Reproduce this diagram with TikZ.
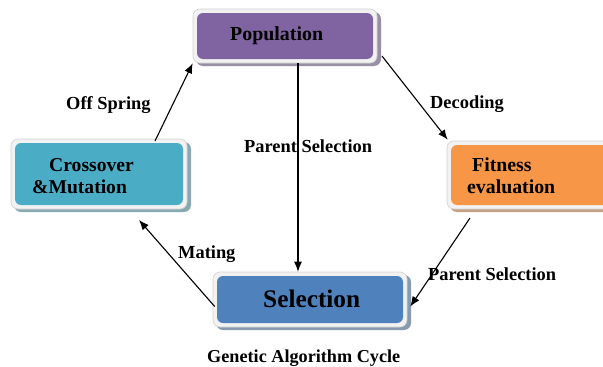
\documentclass[tikz,border=0pt]{standalone}
\usepackage{fontspec}
\setmainfont{Liberation Serif}
\usetikzlibrary{arrows.meta,calc}
\definecolor{cpop}{HTML}{8064A2}
\definecolor{ccro}{HTML}{4BACC6}
\definecolor{cfit}{HTML}{F79646}
\definecolor{csel}{HTML}{4F81BD}
\definecolor{frame}{HTML}{F2F2F2}
\tikzset{
  box/.style={draw=gray!35, line width=0.6pt, fill=frame, rounded corners=7pt,
    inner sep=0pt, minimum width=#1},
  boxfill/.style={fill=#1, rounded corners=6pt},
  shadow/.style={fill=#1!45!gray!80, rounded corners=7pt},
  txt/.style={inner sep=0pt, anchor=base west, font=\bfseries\fontsize{#1}{#1}\selectfont},
  arr/.style={-{Latex[length=10pt,width=8pt]}, line width=1.1pt, black},
}
\begin{document}
\begin{tikzpicture}[x=1pt,y=-1pt]
\useasboundingbox (0,0) rectangle (603,367);
\clip (0,0) rectangle (603,367);
\fill[white] (0,0) rectangle (603,367);
% Population
\fill[shadow=cpop] (196,12) rectangle (381,66);
\node[box, minimum width=184pt, minimum height=54pt] (pop) at (285,36) {};
\fill[boxfill=cpop] (197,13) rectangle (373,59);
% Crossover
\fill[shadow=ccro] (14,142) rectangle (191,212);
\node[box, minimum width=176pt, minimum height=70pt] (cro) at (99,174) {};
\fill[boxfill=ccro] (15,143) rectangle (183,205);
% Fitness
\fill[shadow=cfit] (450,144) rectangle (640,212);
\node[box, minimum width=190pt, minimum height=68pt] (fit) at (542,175) {};
\fill[boxfill=cfit] (451,145) rectangle (640,205);
% Selection
\fill[shadow=csel] (216,275) rectangle (411,330);
\node[box, minimum width=194pt, minimum height=55pt] (sel) at (310,299.5) {};
\fill[boxfill=csel] (217,276) rectangle (403,323);
% texts
\node[txt=19.9] (tpop) at (230,40) {Population};
\node[txt=19.6] (tcro1) at (49,171) {Crossover};
\node[txt=19.6] (tcro2) at (32,193) {\&Mutation};
\node[txt=19.8] (tfit1) at (472,171) {Fitness};
\node[txt=19.8] (tfit2) at (467,193) {evaluation};
\node[txt=25.3] (tsel) at (263,307) {Selection};
\node[txt=18.2] (cap) at (207,362) {Genetic Algorithm Cycle};
% arrows
\coordinate (a1s) at (155,141);
\coordinate (a2s) at (382,56);
\coordinate (a4s) at (470,218);
\coordinate (a5e) at (139,220);
\draw[arr] (a1s) -- (pop.south west);
\draw[arr] (a2s) -- ($(fit.north west)+(1pt,1pt)$);
\draw[arr] (pop.south -| 298,0) -- (sel.north -| 298,0);
\draw[arr] (a4s) -- ($(sel.east)+(3pt,-7pt)$);
\draw[arr] ($(sel.west)+(2pt,-7pt)$) -- (a5e);
% labels
\node[txt=18.4] (l1) at (66,109) {Off Spring};
\node[txt=18.4] (l2) at (430,108) {Decoding};
\node[txt=18.4] (l3) at (244,152) {Parent Selection};
\node[txt=18.4] (l4) at (178,258) {Mating};
\node[txt=18.4] (l5) at (428,280) {Parent Selection};
\end{tikzpicture}
\end{document}
